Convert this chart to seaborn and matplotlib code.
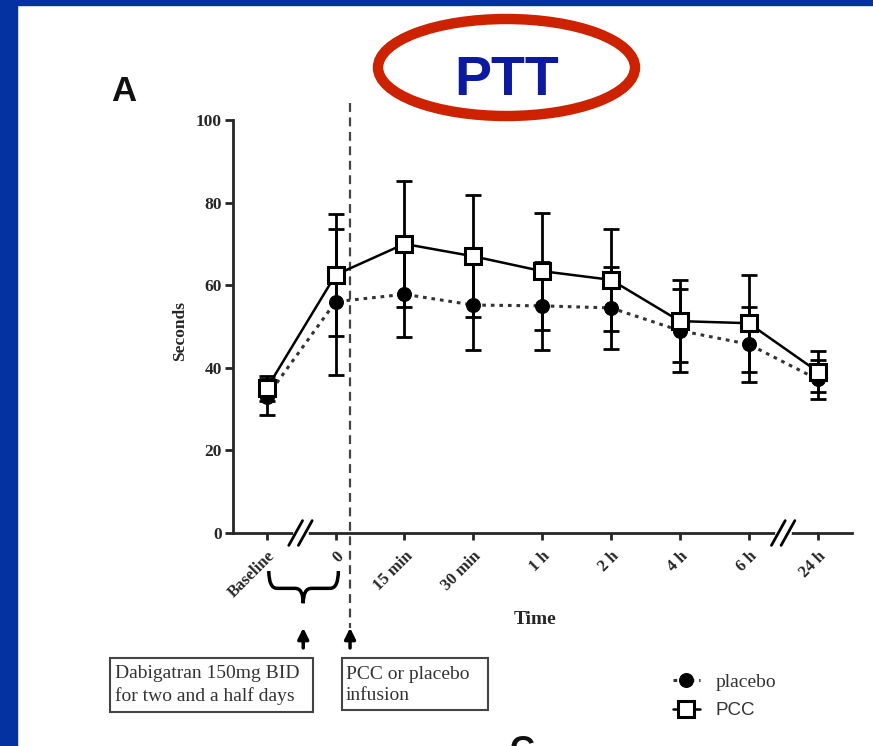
import numpy as np
import pandas as pd
import matplotlib
matplotlib.use('Agg')
import matplotlib.pyplot as plt
import seaborn as sns
from matplotlib.patches import Ellipse, Rectangle, PathPatch
from matplotlib.path import Path

# time points on the x axis
time_labels = ['Baseline', '0', '15 min', '30 min', '1 h', '2 h', '4 h', '6 h', '24 h']

# PTT in seconds, mean and SD
pcc_mean = [35.0, 62.5, 70.0, 67.0, 63.4, 61.3, 51.3, 50.8, 39.1]
pcc_sd = [3.0, 14.8, 15.2, 14.8, 14.2, 12.3, 10.0, 11.7, 5.0]
placebo_mean = [33.0, 56.0, 57.8, 55.2, 55.0, 54.5, 49.0, 45.7, 37.2]
placebo_sd = [4.4, 17.7, 10.4, 11.0, 10.7, 10.0, 10.0, 9.1, 4.8]

sns.set_style('ticks')
plt.rcParams['font.family'] = ['Liberation Serif', 'DejaVu Serif']

pos = np.arange(len(time_labels))
df = pd.DataFrame({'pos': np.tile(pos, 2),
                   'seconds': placebo_mean + pcc_mean,
                   'sd': placebo_sd + pcc_sd,
                   'group': ['placebo'] * len(pos) + ['PCC'] * len(pos)})

fig = plt.figure(figsize=(8.73, 7.46), dpi=100)
ax = fig.add_axes([233 / 873, 1 - 533 / 746, 619 / 873, 413 / 746])

# error bars first, so markers sit on top
for grp in ['placebo', 'PCC']:
    d = df[df['group'] == grp]
    ax.errorbar(d['pos'], d['seconds'], yerr=d['sd'], fmt='none', ecolor='black',
                elinewidth=2, capsize=6, capthick=2, zorder=3)

d_pl = df[df['group'] == 'placebo']
d_pcc = df[df['group'] == 'PCC']
sns.lineplot(data=d_pl, x='pos', y='seconds', ax=ax, color='#333333', linestyle=(0, (1.2, 1.6)),
             linewidth=2.2, marker='o', markersize=10, markerfacecolor='black',
             markeredgecolor='black', label='placebo', zorder=4)
sns.lineplot(data=d_pcc, x='pos', y='seconds', ax=ax, color='black', linestyle='-',
             linewidth=1.8, marker='s', markersize=12, markerfacecolor='white',
             markeredgecolor='black', markeredgewidth=2.2, label='PCC', zorder=5)

ax.set_xlim(-0.49, 8.5)
ax.set_ylim(0, 100)
ax.set_yticks([0, 20, 40, 60, 80, 100])
ax.set_xticks(pos)
ax.set_xticklabels(time_labels, rotation=45, ha='right', rotation_mode='anchor',
                   fontsize=12, fontweight='bold')
for t in ax.get_yticklabels():
    t.set_fontsize(12.5)
    t.set_fontweight('bold')
ax.tick_params(axis='y', length=6, width=2, pad=2)
ax.tick_params(axis='x', length=5, width=2, pad=6)
sns.despine(ax=ax)
ax.spines['left'].set_linewidth(2)
ax.spines['bottom'].set_linewidth(2)

ax.set_ylabel('Seconds', fontsize=12.5, fontweight='bold')
ax.yaxis.set_label_coords(-0.073, 0.49)
ax.set_xlabel('Time', fontsize=14, fontweight='bold')
ax.xaxis.set_label_coords(0.488, -0.19)
ax.get_legend().remove()

# axis breaks
for b in [0.49, 7.5]:
    ax.plot([b - 0.07, b + 0.07], [0, 0], color='white', lw=5, zorder=6, clip_on=False)
    for dx in [-0.07, 0.07]:
        ax.plot([b + dx - 0.1, b + dx + 0.1], [-3.0, 3.0], color='black', lw=2,
                zorder=7, clip_on=False)

# dashed infusion line
x_inf = 1.21
ax.plot([x_inf, x_inf], [104, -23], color='#444444', lw=1.6, linestyle=(0, (4, 2.5)),
        clip_on=False, zorder=2)

# brace under the dosing period
x0, x1, xm = 0.03, 1.04, 0.53
ytop, ymid, ybot = -9.2, -13.4, -17.0
verts = [(x0, ytop), (x0, ymid), (x0 + 0.12, ymid), (xm - 0.12, ymid),
         (xm, ymid), (xm, ybot), (xm, ymid), (xm + 0.12, ymid),
         (x1 - 0.12, ymid), (x1, ymid), (x1, ytop)]
codes = [Path.MOVETO, Path.CURVE3, Path.CURVE3, Path.LINETO,
         Path.CURVE3, Path.CURVE3, Path.CURVE3, Path.CURVE3,
         Path.LINETO, Path.CURVE3, Path.CURVE3]
ax.add_patch(PathPatch(Path(verts, codes), fill=False, lw=2.5, color='black', clip_on=False))

for xa in [xm, x_inf]:
    ax.annotate('', xy=(xa, -22.3), xytext=(xa, -28.5), annotation_clip=False,
                arrowprops=dict(arrowstyle='-|>', lw=2.5, color='black', mutation_scale=16))

# text boxes (fixed size frames like the original)
for bx0, bx1, by0, by1 in [(110, 313, 658, 712), (342, 488, 658, 710)]:
    fig.patches.append(Rectangle((bx0 / 873, 1 - by1 / 746), (bx1 - bx0) / 873, (by1 - by0) / 746,
                                 transform=fig.transFigure, fill=False, ec='#444444', lw=1.5))
fig.text(115 / 873, 1 - 685 / 746, 'Dabigatran 150mg BID\nfor two and a half days',
         fontsize=14, color='#333333', va='center', ha='left', linespacing=1.35)
fig.text(346 / 873, 1 - 685 / 746, 'PCC or placebo\ninfusion',
         fontsize=14, color='#333333', va='center', ha='left', linespacing=1.35)

# legend
handles, labels = ax.get_legend_handles_labels()
leg = fig.legend(handles, labels, loc='upper left', bbox_to_anchor=(655 / 873, 1 - 656 / 746),
                 frameon=False, handlelength=1.4, labelspacing=0.55, prop={'size': 14})
for t in leg.get_texts():
    t.set_color('#333333')
leg.get_texts()[1].set_family('Liberation Sans')
leg.get_texts()[1].set_fontsize(13.5)

# slide decoration
blue = '#0432a0'
fig.patches.append(Rectangle((0, 0), 17 / 873, 1, transform=fig.transFigure, color=blue, zorder=0))
fig.patches.append(Rectangle((0, 1 - 5 / 746), 1, 5 / 746, transform=fig.transFigure, color=blue, zorder=0))
fig.patches.append(Ellipse((506.5 / 873, 1 - 67.5 / 746), 257 / 873, 97 / 746,
                           transform=fig.transFigure, fill=False, ec='#cc2200', lw=7.5, zorder=10))
fig.text(507 / 873, 1 - 95 / 746, 'PTT', fontsize=40, fontweight='bold', color='#0b1a9e',
         family='Liberation Sans', ha='center', va='baseline')
fig.text(111 / 873, 1 - 101 / 746, 'A', fontsize=25, fontweight='bold', color='#111111',
         family='Liberation Sans', ha='left', va='baseline')
fig.text(522 / 873, 1 - 760 / 746, 'C', fontsize=25, fontweight='bold', color='#111111',
         family='Liberation Sans', ha='center', va='baseline')

fig.savefig('out.png', dpi=100)
